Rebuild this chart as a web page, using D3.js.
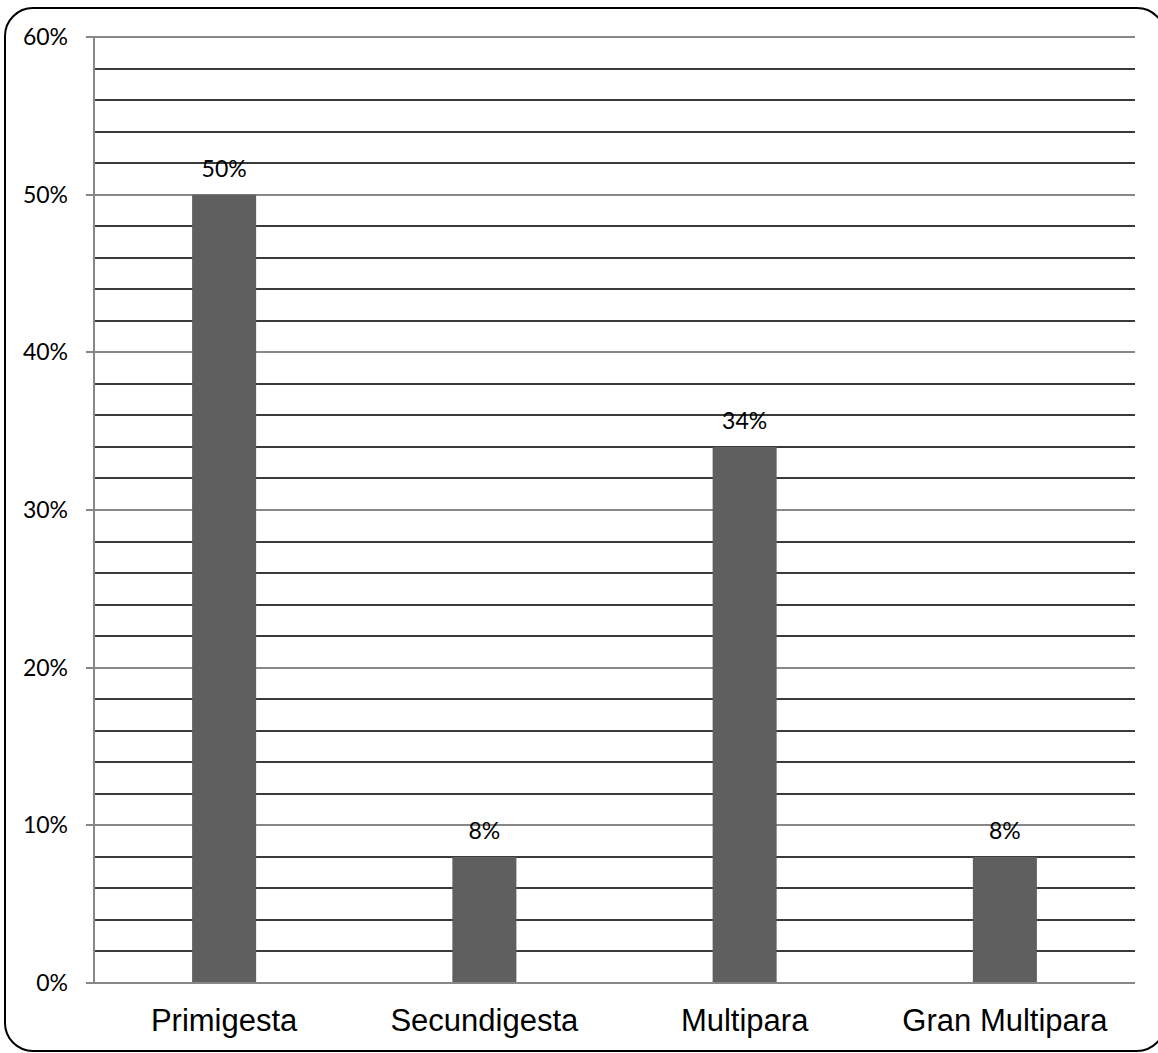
<!DOCTYPE html>
<html>
<head>
<meta charset="utf-8">
<script src="https://cdn.jsdelivr.net/npm/d3@7"></script>
<style>
  html, body { margin: 0; padding: 0; background: #fff; }
  svg { display: block; }
</style>
</head>
<body>
<svg id="chart" width="1158" height="1053"></svg>
<script>
// Chart data
const categories = ["Primigesta", "Secundigesta", "Multipara", "Gran Multipara"];
const values = [0.50, 0.08, 0.34, 0.08];
const valueLabels = ["50%", "8%", "34%", "8%"];
const majorTicks = [0, 0.1, 0.2, 0.3, 0.4, 0.5, 0.6];
const majorTickLabels = ["0%", "10%", "20%", "30%", "40%", "50%", "60%"];
const minorTicks = [0.02, 0.04, 0.06, 0.08, 0.12, 0.14, 0.16, 0.18, 0.22, 0.24, 0.26, 0.28,
                    0.32, 0.34, 0.36, 0.38, 0.42, 0.44, 0.46, 0.48, 0.52, 0.54, 0.56, 0.58];

const svg = d3.select("#chart");

const plot = { left: 94, right: 1135, top: 37, bottom: 983 };

const y = d3.scaleLinear().domain([0, 0.6]).range([plot.bottom, plot.top]);
const x = d3.scaleBand().domain(categories).range([plot.left, plot.right]);
const barW = x.bandwidth() * 0.246;

// Outer rounded frame (right edge runs past the canvas)
svg.append("rect")
  .attr("x", 5).attr("y", 8)
  .attr("width", 1160).attr("height", 1043)
  .attr("rx", 28).attr("ry", 28)
  .attr("fill", "#fff")
  .attr("stroke", "#000")
  .attr("stroke-width", 2);

// Minor gridlines (dark)
svg.append("g")
  .selectAll("line")
  .data(minorTicks)
  .join("line")
  .attr("x1", plot.left + 1).attr("x2", plot.right)
  .attr("y1", d => Math.round(y(d))).attr("y2", d => Math.round(y(d)))
  .attr("stroke", "#3a3a3a")
  .attr("stroke-width", 2);

// Major gridlines with left tick marks (grey)
svg.append("g")
  .selectAll("line")
  .data(majorTicks)
  .join("line")
  .attr("x1", plot.left - 8).attr("x2", plot.right)
  .attr("y1", d => Math.round(y(d))).attr("y2", d => Math.round(y(d)))
  .attr("stroke", "#878787")
  .attr("stroke-width", 2);

// Y axis line
svg.append("line")
  .attr("x1", plot.left).attr("x2", plot.left)
  .attr("y1", plot.top).attr("y2", plot.bottom)
  .attr("stroke", "#878787")
  .attr("stroke-width", 2);

// Y tick labels
svg.append("g")
  .selectAll("text")
  .data(majorTicks)
  .join("text")
  .attr("x", 68)
  .attr("y", d => Math.round(y(d)) + 8)
  .attr("text-anchor", "end")
  .attr("font-family", "Lato, 'Open Sans', sans-serif")
  .attr("font-size", 23)
  .attr("fill", "#000")
  .text((d, i) => majorTickLabels[i]);

// Bars
svg.append("g")
  .selectAll("rect")
  .data(values)
  .join("rect")
  .attr("x", (d, i) => x(categories[i]) + x.bandwidth() / 2 - barW / 2)
  .attr("y", d => y(d))
  .attr("width", barW)
  .attr("height", d => y(0) - y(d))
  .attr("fill", "#5f5f5f");

// Redraw the baseline over the bars
svg.append("line")
  .attr("x1", plot.left - 8).attr("x2", plot.right)
  .attr("y1", plot.bottom).attr("y2", plot.bottom)
  .attr("stroke", "#878787")
  .attr("stroke-width", 2);

// Value labels above bars
svg.append("g")
  .selectAll("text")
  .data(values)
  .join("text")
  .attr("x", (d, i) => x(categories[i]) + x.bandwidth() / 2)
  .attr("y", d => y(d) - 18)
  .attr("text-anchor", "middle")
  .attr("font-family", "Lato, 'Open Sans', sans-serif")
  .attr("font-size", 23)
  .attr("fill", "#000")
  .text((d, i) => valueLabels[i]);

// Category labels
svg.append("g")
  .selectAll("text")
  .data(categories)
  .join("text")
  .attr("x", d => x(d) + x.bandwidth() / 2)
  .attr("y", 1031)
  .attr("text-anchor", "middle")
  .attr("font-family", "Liberation Sans, Arial, sans-serif")
  .attr("font-size", 31)
  .attr("fill", "#000")
  .text(d => d);
</script>
</body>
</html>
